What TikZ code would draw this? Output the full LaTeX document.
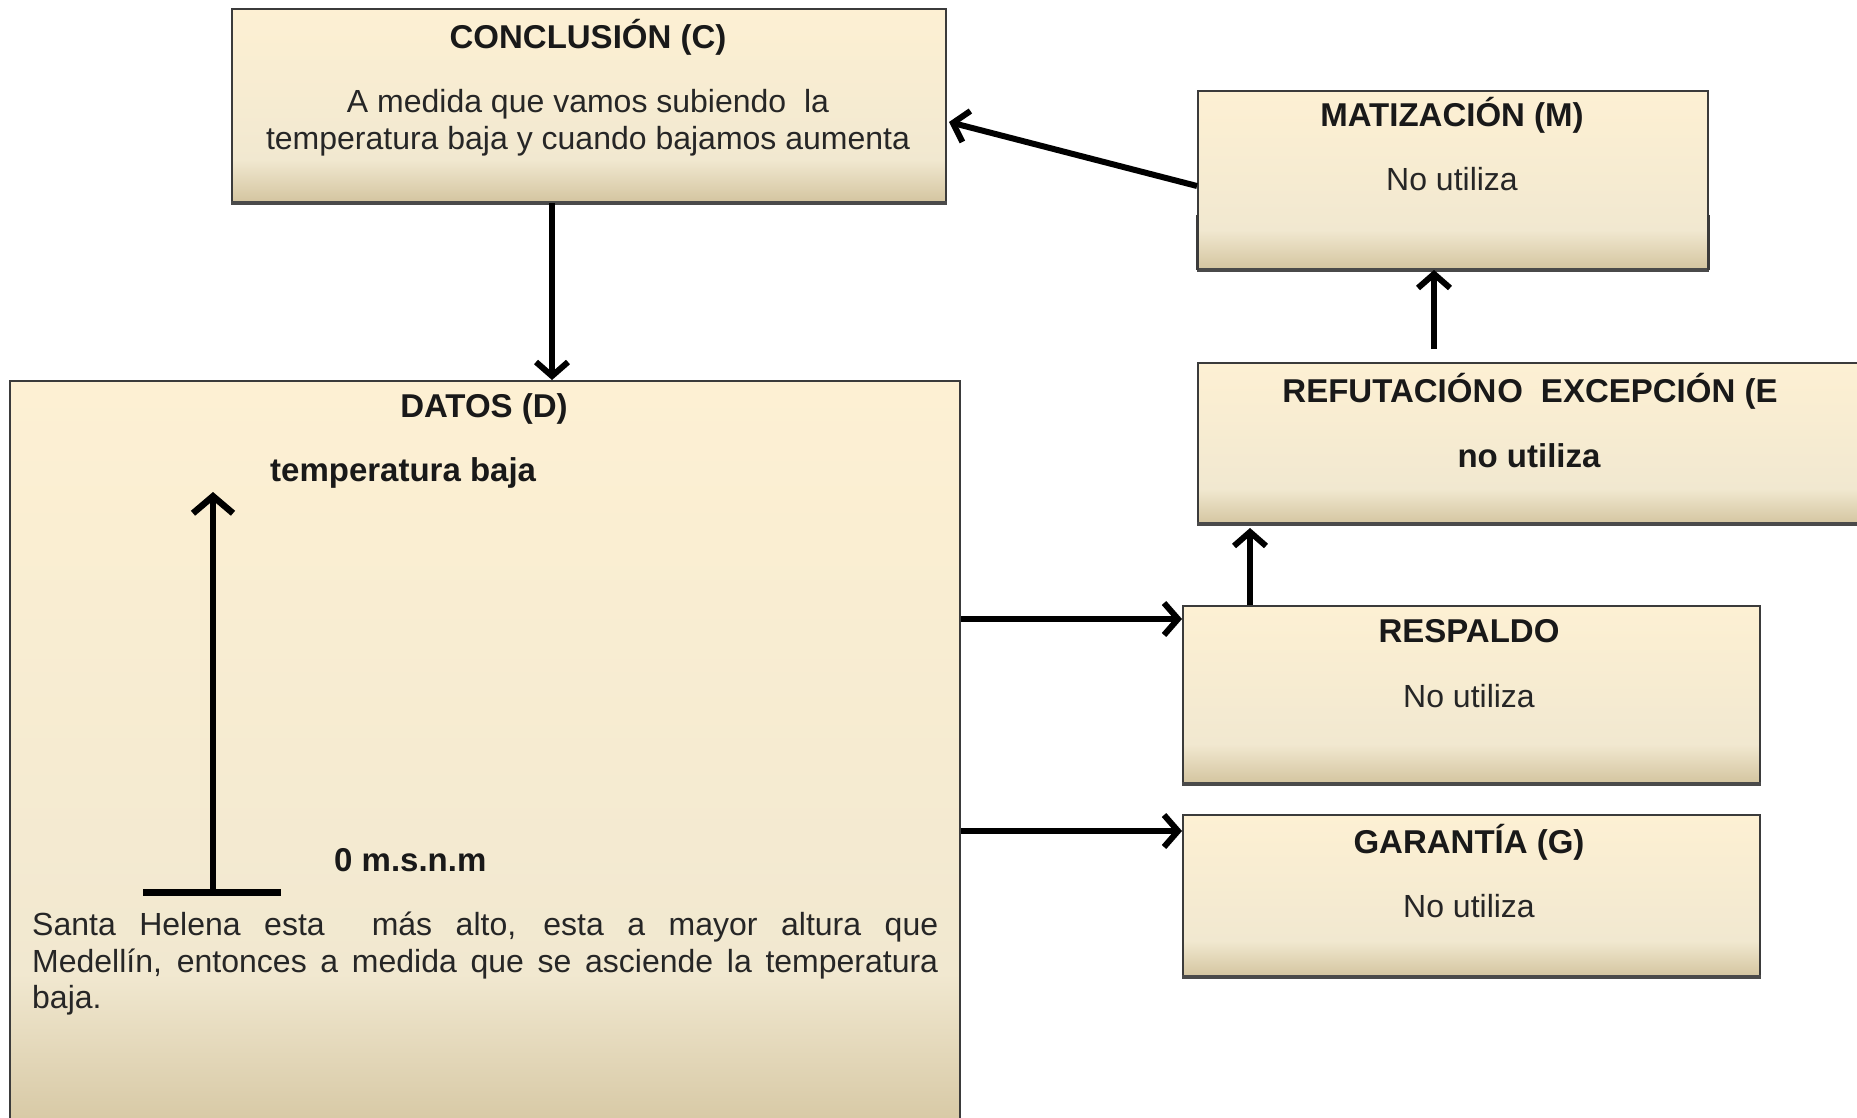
\documentclass[tikz,border=0pt]{standalone}
\usepackage{fontspec}
\setmainfont{Liberation Sans}
\usetikzlibrary{arrows.meta,calc}

\definecolor{boxtop}{HTML}{FDF0D3}
\definecolor{boxmid}{HTML}{F1E8D0}
\definecolor{boxbot}{HTML}{D4C5A0}
\definecolor{edgecol}{HTML}{3B3B3B}
\definecolor{shadecol}{HTML}{4A4A4A}
\definecolor{bodytext}{HTML}{262626}

% parchment gradient: light for the upper part, tan towards the bottom
\pgfdeclareverticalshading{parch}{100bp}{%
  color(0bp)=(boxbot); color(25bp)=(boxbot); color(36bp)=(boxmid);
  color(50bp)=(boxmid!60!boxtop); color(75bp)=(boxtop); color(100bp)=(boxtop)}

\tikzset{
  box/.style={draw=edgecol, line width=2pt, shading=parch, rectangle,
    inner sep=0pt, anchor=north west},
  boxedge/.style={draw=shadecol, line width=4pt},
  ttl/.style={font=\fontsize{33}{38}\selectfont\bfseries, text=black!90, anchor=base, inner sep=0pt},
  bdy/.style={font=\fontsize{32}{37}\selectfont, text=bodytext, anchor=base, inner sep=0pt},
  conn/.style={line width=6pt, draw=black,
    -{Straight Barb[length=14pt,width=32pt,line width=6pt]}},
  innerarrow/.style={line width=6.5pt, draw=black,
    -{Straight Barb[length=17pt,width=40pt,line width=6.5pt]}},
}

\begin{document}
\begin{tikzpicture}[x=1pt,y=-1pt]
\useasboundingbox (0,0) rectangle (1857,1118);
\clip (0,0) rectangle (1857,1118);

% boxes
\node[box, minimum width=714pt, minimum height=193pt] (C) at (231,8) {};
\node[box, minimum width=510pt, minimum height=178pt] (M) at (1197,90) {};
\node[box, minimum width=690pt, minimum height=161pt] (E) at (1197,362) {};
\node[box, minimum width=950pt, minimum height=760pt] (D) at (9,380) {};
\node[box, minimum width=577pt, minimum height=177pt] (R) at (1182,605) {};
\node[box, minimum width=577pt, minimum height=161pt] (G) at (1182,814) {};

% darker lower edges
\draw[boxedge] (C.south west) -- (C.south east);
\draw[boxedge] (M.south west) -- (M.south east);
\draw[boxedge] ($(E.south west)+(0,-1)$) -- ($(E.south east)+(0,-1)$);
\draw[boxedge] (R.south west) -- (R.south east);
\draw[boxedge] (G.south west) -- (G.south east);
\draw[draw=edgecol, line width=3pt] ($(M.south west)+(0.5,-55)$) -- ($(M.south west)+(0.5,0)$)
  ($(M.south east)+(-0.5,0)$) -- ($(M.south east)+(-0.5,-55)$);

% conclusion
\node[ttl] (Ct) at (588,49) {CONCLUSIÓN (C)};
\node[bdy] (Cb1) at (588,113) {A medida que vamos subiendo\ \ la};
\node[bdy] (Cb2) at (588,150) {temperatura baja y cuando bajamos aumenta};

% matizacion
\node[ttl] (Mt) at (1452,127) {MATIZACIÓN (M)};
\node[bdy] (Mb) at (1452,191) {No utiliza};

% refutacion
\node[ttl] (Et) at (1530,402) {REFUTACIÓN\kern1pt O\hspace{18pt}EXCEPCIÓN (E};
\node[ttl] (Eb) at (1529,467) {no utiliza};

% respaldo
\node[ttl] (Rt) at (1469,642) {RESPALDO};
\node[bdy] (Rb) at (1469,707) {No utiliza};

% garantia
\node[ttl] (Gt) at (1469,853) {GARANTÍA (G)};
\node[bdy] (Gb) at (1469,917) {No utiliza};

% datos
\node[ttl] (Dt) at (484,417) {DATOS (D)};
\node[ttl, anchor=base west] (Dhi) at (270,481) {temperatura baja};
\node[ttl, anchor=base west] (Dlo) at (334,871) {0 m.s.n.m};
\node[bdy, anchor=base west] (Dp1) at (32,935)
  {\makebox[906pt][s]{Santa Helena esta\ \ más alto, esta a mayor altura que}};
\node[bdy, anchor=base west] (Dp2) at (32,972)
  {\makebox[906pt][s]{Medellín, entonces a medida que se asciende la temperatura}};
\node[bdy, anchor=base west] (Dp3) at (32,1008) {baja.};

% altitude sketch inside the data box
\coordinate (altbase) at (213,892);
\coordinate (alttop) at (213,492);
\draw[line width=7pt, draw=black] (143,892) -- (281,892);
\draw[innerarrow] (altbase) -- (alttop);

% connectors
\coordinate (cdx) at (552,0);
\draw[conn] (C.south -| cdx) -- (D.north -| cdx);

\draw[conn] ($(M.north west)+(0,96)$) -- ($(C.north east)+(2,114)$);

\coordinate (emx) at (1434,349);
\draw[conn] (emx) -- (emx |- M.south);

\coordinate (rex) at (1250,0);
\draw[conn] (R.north -| rex) -- ($(E.south -| rex)+(0,3)$);

\coordinate (dr) at (0,619);
\coordinate (dg) at (0,831);
\draw[conn] (D.east |- dr) -- (R.west |- dr);
\draw[conn] (D.east |- dg) -- (G.west |- dg);
\end{tikzpicture}
\end{document}
